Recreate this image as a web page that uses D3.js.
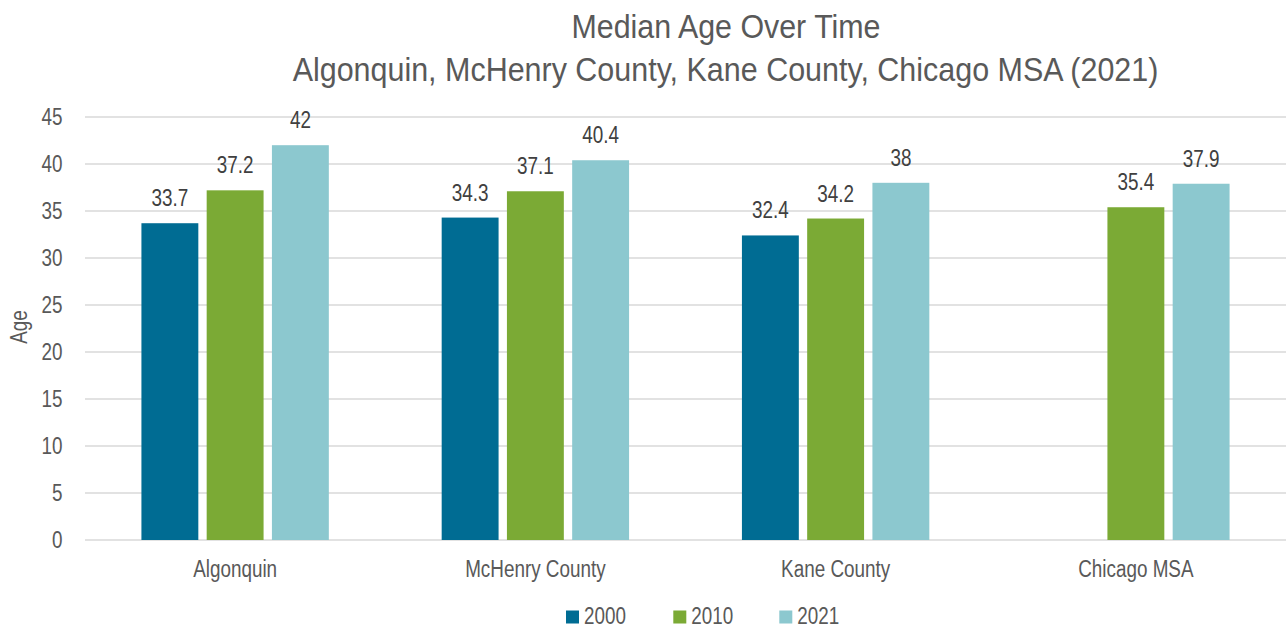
<!DOCTYPE html>
<html><head><meta charset="utf-8">
<script src="https://cdn.jsdelivr.net/npm/d3@7"></script>
<style>
html,body{margin:0;padding:0;background:#fff;}
svg text{font-family:"Liberation Sans",Arial,sans-serif;}
</style></head>
<body><svg id="c" width="1286" height="629"></svg>
<script>
const categories = ["Algonquin","McHenry County","Kane County","Chicago MSA"];
const seriesNames = ["2000","2010","2021"];
const v2000 = [33.7, 34.3, 32.4, null];
const v2010 = [37.2, 37.1, 34.2, 35.4];
const v2021 = [42, 40.4, 38, 37.9];
const yTicks = [0,5,10,15,20,25,30,35,40,45];
const colors = ["#006C93","#7BAA35","#8CC8CF"];

const series = [v2000, v2010, v2021];
const svg = d3.select("#c");
const mLeft = 85, mRight = 1286, mTop = 117, mBottom = 540;
const FS = 24.5, SX = 0.77;

// horizontally condense text around its anchor point
function squeeze(sel, s) {
  sel.each(function() {
    const t = d3.select(this);
    const tx = +t.attr("x") || 0, ty = +t.attr("y") || 0;
    const prev = t.attr("transform") || "";
    t.attr("x", 0).attr("y", 0)
     .attr("transform", `${prev} translate(${tx},${ty}) scale(${s},1)`);
  });
}

const x = d3.scaleBand().domain(categories).range([mLeft, mRight]);
const groupW = 187.4;
const inner = d3.scaleBand().domain(seriesNames).range([0, groupW]).paddingInner(0.128).paddingOuter(0);
const y = d3.scaleLinear().domain([0,45]).range([mBottom, mTop]);

// gridlines
svg.append("g").selectAll("line").data(yTicks).join("line")
  .attr("x1", mLeft).attr("x2", mRight)
  .attr("y1", d=>y(d)).attr("y2", d=>y(d))
  .attr("stroke","#d9d9d9").attr("stroke-width",1.5);

// y axis
const yAxis = svg.append("g").attr("transform",`translate(${mLeft},0)`)
  .call(d3.axisLeft(y).tickValues(yTicks).tickSize(0).tickPadding(22.5));
yAxis.select(".domain").remove();
yAxis.selectAll("text").attr("font-size",FS).attr("fill","#595959")
  .style("font-family",'"Liberation Sans",Arial,sans-serif').call(squeeze, SX);

// x axis
const xAxis = svg.append("g").attr("transform",`translate(0,${mBottom})`)
  .call(d3.axisBottom(x).tickSize(0).tickPadding(19.3));
xAxis.select(".domain").remove();
xAxis.selectAll("text").attr("font-size",FS).attr("fill","#595959")
  .style("font-family",'"Liberation Sans",Arial,sans-serif').call(squeeze, SX);

// bars
series.forEach((vals, si) => {
  const g = svg.append("g");
  const data = categories.map((c,i)=>({c, v: vals[i]})).filter(d=>d.v!=null);
  const bx = d => x(d.c) + x.bandwidth()/2 - groupW/2 + inner(seriesNames[si]);
  g.selectAll("rect").data(data).join("rect")
    .attr("x", bx).attr("width", inner.bandwidth())
    .attr("y", d=>y(d.v)).attr("height", d=>y(0)-y(d.v))
    .attr("fill", colors[si]);
  g.selectAll("text").data(data).join("text")
    .attr("x", d=>bx(d)+inner.bandwidth()/2).attr("y", d=>y(d.v)-17)
    .attr("text-anchor","middle").attr("font-size",FS).attr("fill","#404040")
    .text(d=>d.v).call(squeeze, SX);
});

// title
svg.append("text").attr("x",726).attr("y",38.3).attr("text-anchor","middle")
  .attr("font-size",32.5).attr("fill","#595959").text("Median Age Over Time").call(squeeze, 0.935);
svg.append("text").attr("x",725.5).attr("y",81.3).attr("text-anchor","middle")
  .attr("font-size",33.3).attr("fill","#595959").text("Algonquin, McHenry County, Kane County, Chicago MSA (2021)").call(squeeze, 0.915);

// y title
svg.append("text").attr("transform","translate(27,327) rotate(-90)").attr("text-anchor","middle")
  .attr("font-size",FS).attr("fill","#595959").text("Age").call(squeeze, SX);

// legend
const lx = [566, 673.3, 779.3];
const lg = svg.append("g").selectAll("g").data(seriesNames).join("g")
  .attr("transform",(d,i)=>`translate(${lx[i]},610.5)`);
lg.append("rect").attr("width",13).attr("height",13).attr("fill",(d,i)=>colors[i]);
lg.append("text").attr("x",18).attr("y",13.7).attr("font-size",24).attr("fill","#595959")
  .text(d=>d).call(squeeze, 0.785);
</script></body></html>
